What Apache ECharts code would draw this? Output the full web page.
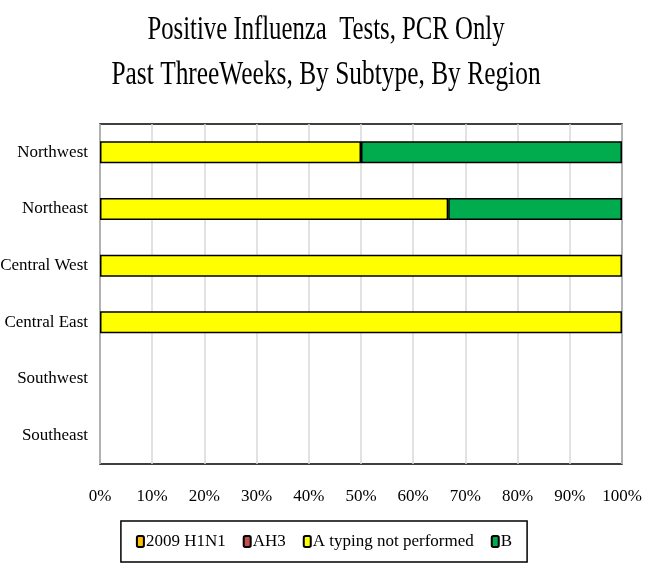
<!DOCTYPE html>
<html>
<head>
<meta charset="utf-8">
<script src="https://cdn.jsdelivr.net/npm/echarts@6/dist/echarts.min.js"></script>
<style>
  html, body { margin: 0; padding: 0; background: #fff; }
  #main { width: 648px; height: 577px; }
</style>
</head>
<body>
<div id="main"></div>
<script>
var regions = ['Northwest', 'Northeast', 'Central West', 'Central East', 'Southwest', 'Southeast'];
var seriesNames = ['2009 H1N1', 'AH3', 'A typing not performed', 'B'];
var h1n1 = [0, 0, 0, 0, 0, 0];
var ah3 = [0, 0, 0, 0, 0, 0];
var aNotTyped = [50, 66.7, 100, 100, 0, 0];
var typeB = [50, 33.3, 0, 0, 0, 0];
var colors = ['#ffc000', '#c0504d', '#ffff00', '#00ac4e'];
var titleLines = ['Positive Influenza  Tests, PCR Only', 'Past ThreeWeeks, By Subtype, By Region'];

var serif = '"Liberation Serif", "Times New Roman", serif';
var chart = echarts.init(document.getElementById('main'));

var values = [h1n1, ah3, aNotTyped, typeB];
var series = seriesNames.map(function (name, i) {
    return {
        name: name,
        type: 'bar',
        stack: 'total',
        barWidth: 22,
        // empty segments are not drawn (no border sliver)
        data: values[i].map(function (v) { return v === 0 ? '-' : v; }),
        itemStyle: { color: colors[i], borderColor: '#000', borderWidth: 1.5 }
    };
});

option = {
    animation: false,
    graphic: [
        {
            type: 'text', x: 326, y: 30, scaleX: 0.75,
            style: { text: titleLines[0], font: '33px ' + serif, fill: '#000', align: 'center', verticalAlign: 'middle' }
        },
        {
            type: 'text', x: 326, y: 75, scaleX: 0.77,
            style: { text: titleLines[1], font: '33px ' + serif, fill: '#000', align: 'center', verticalAlign: 'middle' }
        }
    ],
    grid: {
        left: 100, right: 26, top: 124, bottom: 113,
        outerBoundsMode: 'none',
        show: true, borderColor: '#000', borderWidth: 1.5, backgroundColor: '#fff'
    },
    xAxis: {
        type: 'value', min: 0, max: 100, interval: 10,
        axisLine: { show: false },
        axisTick: { show: false },
        splitLine: { lineStyle: { color: '#d9d9d9', width: 1.5 } },
        axisLabel: { formatter: '{value}%', fontFamily: serif, fontSize: 17, color: '#000', margin: 24 }
    },
    yAxis: {
        type: 'category', data: regions, inverse: true,
        axisLine: { show: false },
        axisTick: { show: false },
        axisLabel: { fontFamily: serif, fontSize: 17, color: '#000', margin: 12 }
    },
    legend: {
        data: seriesNames,
        top: 521, left: 'center',
        borderColor: '#000', borderWidth: 1.5,
        padding: [12, 15],
        itemWidth: 7, itemHeight: 11, itemGap: 17,
        textStyle: { fontFamily: serif, fontSize: 17, color: '#000', padding: [0, 0, 0, -3] }
    },
    series: series
};
chart.setOption(option);
</script>
</body>
</html>
